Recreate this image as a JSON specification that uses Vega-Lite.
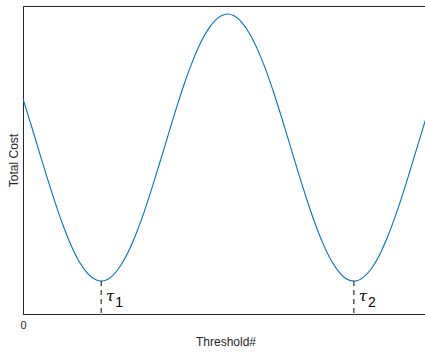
{
  "$schema": "https://vega.github.io/schema/vega-lite/v6.json",
  "autosize": "none",
  "padding": {"left": 23, "top": 6, "right": 0, "bottom": 40},
  "width": 405,
  "height": 308,
  "background": "white",
  "view": {"stroke": "#262626", "strokeWidth": 1},
  "config": {"font": "Liberation Sans"},
  "datasets": {
    "curve": [
      {"x": 0.00, "cost": 0.698}, {"x": 0.02, "cost": 0.614}, {"x": 0.04, "cost": 0.527},
      {"x": 0.06, "cost": 0.441}, {"x": 0.08, "cost": 0.359}, {"x": 0.10, "cost": 0.284},
      {"x": 0.12, "cost": 0.219}, {"x": 0.14, "cost": 0.167}, {"x": 0.16, "cost": 0.131},
      {"x": 0.18, "cost": 0.111}, {"x": 0.193, "cost": 0.107}, {"x": 0.20, "cost": 0.108},
      {"x": 0.22, "cost": 0.123}, {"x": 0.24, "cost": 0.155}, {"x": 0.26, "cost": 0.202},
      {"x": 0.28, "cost": 0.263}, {"x": 0.30, "cost": 0.335}, {"x": 0.32, "cost": 0.416},
      {"x": 0.34, "cost": 0.501}, {"x": 0.36, "cost": 0.588}, {"x": 0.38, "cost": 0.674},
      {"x": 0.40, "cost": 0.754}, {"x": 0.42, "cost": 0.825}, {"x": 0.44, "cost": 0.885},
      {"x": 0.46, "cost": 0.930}, {"x": 0.48, "cost": 0.960}, {"x": 0.50, "cost": 0.973},
      {"x": 0.505, "cost": 0.974}, {"x": 0.52, "cost": 0.969}, {"x": 0.54, "cost": 0.947},
      {"x": 0.56, "cost": 0.909}, {"x": 0.58, "cost": 0.856}, {"x": 0.60, "cost": 0.791},
      {"x": 0.62, "cost": 0.715}, {"x": 0.64, "cost": 0.632}, {"x": 0.66, "cost": 0.545},
      {"x": 0.68, "cost": 0.458}, {"x": 0.70, "cost": 0.375}, {"x": 0.72, "cost": 0.298},
      {"x": 0.74, "cost": 0.231}, {"x": 0.76, "cost": 0.176}, {"x": 0.78, "cost": 0.137},
      {"x": 0.80, "cost": 0.113}, {"x": 0.817, "cost": 0.107}, {"x": 0.82, "cost": 0.107},
      {"x": 0.84, "cost": 0.119}, {"x": 0.86, "cost": 0.147}, {"x": 0.88, "cost": 0.191},
      {"x": 0.90, "cost": 0.250}, {"x": 0.92, "cost": 0.320}, {"x": 0.94, "cost": 0.399},
      {"x": 0.96, "cost": 0.484}, {"x": 0.98, "cost": 0.571}, {"x": 0.99, "cost": 0.614},
      {"x": 1.00, "cost": 0.657}
    ],
    "marks": [
      {"x": 0.193, "cost": 0.107, "base": 0, "sym": "τ", "sub": "1", "ly": 0.06},
      {"x": 0.817, "cost": 0.107, "base": 0, "sym": "τ", "sub": "2", "ly": 0.06}
    ]
  },
  "layer": [
    {
      "data": {"name": "curve"},
      "mark": {"type": "line", "color": "#0072BD", "strokeWidth": 1.1, "interpolate": "monotone", "clip": true},
      "encoding": {
        "x": {
          "field": "x", "type": "quantitative",
          "scale": {"domain": [0, 1], "nice": false, "zero": false},
          "axis": {
            "values": [0, 1], "format": "d", "title": "Threshold#", "grid": false, "ticks": false,
            "domainColor": "#262626", "labelColor": "#262626", "labelFontSize": 11,
            "labelPadding": 5, "titleFontSize": 12, "titleFontWeight": "normal",
            "titleColor": "#262626", "titlePadding": 6, "labelFlush": false, "labelBound": false
          }
        },
        "y": {
          "field": "cost", "type": "quantitative",
          "scale": {"domain": [0, 1], "nice": false, "zero": false},
          "axis": {
            "title": "Total Cost", "grid": false, "ticks": false, "labels": false,
            "domainColor": "#262626", "titleFontSize": 12, "titleFontWeight": "normal",
            "titleColor": "#262626", "titlePadding": 3
          }
        }
      }
    },
    {
      "data": {"name": "marks"},
      "mark": {"type": "rule", "color": "#000000", "strokeWidth": 1, "strokeDash": [5, 4]},
      "encoding": {
        "x": {"field": "x", "type": "quantitative"},
        "y": {"field": "cost", "type": "quantitative"},
        "y2": {"field": "base"}
      }
    },
    {
      "data": {"name": "marks"},
      "mark": {"type": "text", "font": "DejaVu Serif", "fontStyle": "italic", "fontSize": 15, "align": "center", "baseline": "middle", "dx": 9, "color": "#000000"},
      "encoding": {
        "x": {"field": "x", "type": "quantitative"},
        "y": {"field": "ly", "type": "quantitative"},
        "text": {"field": "sym"}
      }
    },
    {
      "data": {"name": "marks"},
      "mark": {"type": "text", "fontSize": 14, "align": "center", "baseline": "middle", "dx": 18, "dy": 7, "color": "#000000"},
      "encoding": {
        "x": {"field": "x", "type": "quantitative"},
        "y": {"field": "ly", "type": "quantitative"},
        "text": {"field": "sub"}
      }
    }
  ]
}
